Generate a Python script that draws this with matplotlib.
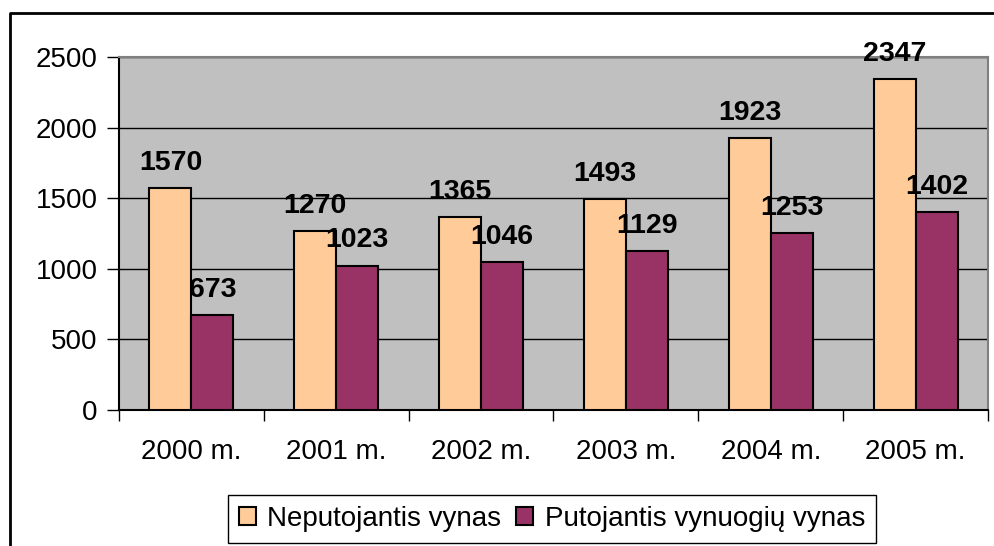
import numpy as np
import matplotlib.pyplot as plt
from matplotlib.lines import Line2D

plt.rcParams['font.family'] = ['Liberation Sans', 'DejaVu Sans']

# data
years = ['2000 m.', '2001 m.', '2002 m.', '2003 m.', '2004 m.', '2005 m.']
neputojantis = [1570, 1270, 1365, 1493, 1923, 2347]
putojantis = [673, 1023, 1046, 1129, 1253, 1402]
series_names = ['Neputojantis vynas', 'Putojantis vynuogių vynas']

W, H = 994, 546
fig = plt.figure(figsize=(W / 100, H / 100), dpi=100)
ax = fig.add_axes([119 / W, 1 - 410 / H, (988 - 119) / W, (410 - 57) / H])
ax.set_facecolor('#C0C0C0')

x = np.arange(len(years))
bw = 0.29
b1 = ax.bar(x - bw / 2, neputojantis, bw, color='#FFCC99', edgecolor='black',
            linewidth=1.5, label=series_names[0], zorder=3)
b2 = ax.bar(x + bw / 2, putojantis, bw, color='#993366', edgecolor='black',
            linewidth=1.5, label=series_names[1], zorder=3)

for bars, vals in [(b1, neputojantis), (b2, putojantis)]:
    for rect, v in zip(bars, vals):
        ax.annotate(str(v), (rect.get_x() + rect.get_width() / 2, v),
                    xytext=(0, 13), textcoords='offset points',
                    ha='center', va='baseline', fontsize=20.5,
                    fontweight='bold', zorder=5)

ax.set_xlim(-0.5, len(years) - 0.5)
ax.set_ylim(0, 2500)
ax.set_yticks(np.arange(0, 2501, 500))
ax.yaxis.grid(True, color='black', linewidth=1)
ax.set_axisbelow(True)

ax.set_xticks(x)
ax.set_xticklabels(years)
ax.set_xticks(np.arange(-0.5, len(years)), minor=True)
ax.tick_params(axis='x', which='major', length=0, pad=21, labelsize=20)
ax.tick_params(axis='x', which='minor', length=8, width=1, direction='out')
ax.tick_params(axis='y', length=9, width=1, direction='out', pad=6.5,
               labelsize=20)

for side in ['top', 'right']:
    ax.spines[side].set_color('#808080')
    ax.spines[side].set_linewidth(1.5)
for side in ['left', 'bottom']:
    ax.spines[side].set_color('black')
    ax.spines[side].set_linewidth(1.5)

leg = fig.legend(loc='lower center', bbox_to_anchor=(552 / W, 3 / H), ncol=2,
                 fontsize=20, frameon=True, fancybox=False, edgecolor='black',
                 framealpha=1, handlelength=0.6, handleheight=0.6,
                 handletextpad=0.42, columnspacing=0.55, borderpad=0.4,
                 borderaxespad=0)
leg.get_frame().set_linewidth(1)

# outer chart border (top and left only visible)
fig.add_artist(Line2D([10 / W, 10 / W, 1], [0, 1 - 13 / H, 1 - 13 / H],
                      color='black', linewidth=2))

fig.savefig('out.png', dpi=100)
